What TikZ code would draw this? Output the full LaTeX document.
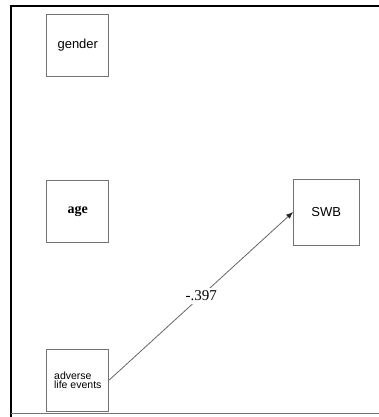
\documentclass[tikz,border=0pt]{standalone}
\usepackage{fontspec}
\setmainfont{Liberation Serif}
\newfontfamily\arial{Liberation Sans}
\usetikzlibrary{arrows.meta}
\begin{document}
\begin{tikzpicture}[x=1pt,y=1pt,
  varbox/.style={draw=black!55, line width=0.9pt, minimum width=62pt, minimum height=62pt, inner sep=0pt},
  path/.style={draw=black!60, line width=0.8pt, -{Latex[length=7pt,width=5.5pt,black!85]}},
  coef/.style={fill=white, inner sep=3pt, font=\fontsize{15}{17}\selectfont}
]
\useasboundingbox (0,0) rectangle (379,417);
% frame
\draw[line width=2pt, black] (379,411) -- (10.5,411) -- (10.5,0);
\draw[line width=1.2pt, black!55] (11,3.5) -- (379,3.5);
% observed variables
\node[varbox, font=\arial\fontsize{13}{15}\selectfont] (gender) at (77.8,372) {gender};
\node[varbox, font=\bfseries\fontsize{14}{16}\selectfont] (age) at (77.8,205.5) {age};
\node[varbox, minimum width=65.5pt, minimum height=66pt, font=\arial\fontsize{13}{15}\selectfont] (swb) at (326.3,205) {SWB};
\node[varbox, align=left, font=\arial\fontsize{10.5}{9.5}\selectfont] (ale) at (77.8,37) {adverse\\life events};
% regression path
\draw[path] (ale.east) -- node[coef] (b) {-.397} (swb.west);
\end{tikzpicture}
\end{document}
